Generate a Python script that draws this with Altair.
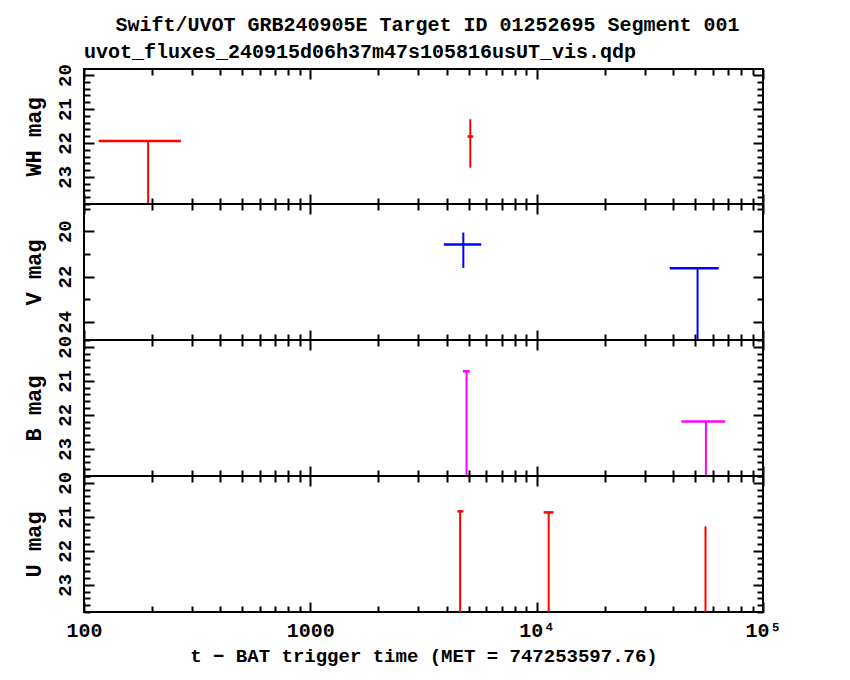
import altair as alt
import pandas as pd

FONT = "Liberation Mono"

# ---------------- data ----------------
title_line1 = "Swift/UVOT GRB240905E Target ID 01252695 Segment 001"
title_line2 = "uvot_fluxes_240915d06h37m47s105816usUT_vis.qdp"
x_title = "t − BAT trigger time (MET = 747253597.76)"

x_domain = [100, 100000]
x_major = [100, 1000, 10000, 100000]
x_major_labels = ["100", "1000", "10⁴", "10⁵"]
x_minor = [200, 300, 400, 500, 600, 700, 800, 900,
           2000, 3000, 4000, 5000, 6000, 7000, 8000, 9000,
           20000, 30000, 40000, 50000, 60000, 70000, 80000, 90000]

# WH filter (None in err_hi = upper limit, line runs to the panel edge)
wh_t = [192, 5090]
wh_t_lo = [116, 4950]
wh_t_hi = [268, 5240]
wh_mag = [21.94, 21.81]
wh_err_lo = [21.94, 21.30]
wh_err_hi = [None, 22.73]

# V filter
v_t = [4742, 51400]
v_t_lo = [3890, 38700]
v_t_hi = [5690, 63700]
v_mag = [20.59, 21.63]
v_err_lo = [20.06, 21.63]
v_err_hi = [21.62, None]

# B filter
b_t = [4900, 55950]
b_t_lo = [4720, 43600]
b_t_hi = [5060, 68100]
b_mag = [20.72, 22.20]
b_err_lo = [20.72, 22.20]
b_err_hi = [None, None]

# U filter
u_t = [4590, 11300, 55700]
u_t_lo = [4470, 10740, 55300]
u_t_hi = [4745, 11880, 56100]
u_mag = [20.84, 20.87, 21.31]
u_err_lo = [20.84, 20.87, 21.31]
u_err_hi = [None, None, None]

wh_domain = [19.82, 23.8]
v_domain = [18.8, 24.8]
b_domain = [19.8, 23.8]
u_domain = [19.8, 23.8]

wh_major = [20, 21, 22, 23]
v_major = [20, 22, 24]
v_minor = [19, 21, 23]
b_major = [20, 21, 22, 23]
u_major = [20, 21, 22, 23]


def fine_minor(lo, hi):
    vals = []
    k = int(round(lo * 5))
    while k <= int(round(hi * 5)):
        if k % 5 != 0:
            vals.append(round(k / 5, 1))
        k += 1
    return vals


def table(t, tlo, thi, mag, elo, ehi, domain):
    return pd.DataFrame({
        "t": t, "t_lo": tlo, "t_hi": thi, "mag": mag,
        "mag_lo": elo,
        "mag_hi": [domain[1] if v is None else v for v in ehi],
    })


label_expr = " : ".join(
    f"abs(datum.value - {v}) < 1 ? '{lab}'" for v, lab in zip(x_major, x_major_labels)
) + " : ''"

PLOT_W = 679


def x_axis(orient, values, size, labels=False, title=None):
    kw = dict(orient=orient, values=values, tickSize=size, offset=-size,
              domain=False, grid=False, tickColor="black", tickWidth=2,
              labels=labels, title=title)
    if labels:
        kw.update(labelExpr=label_expr, labelFont=FONT, labelFontSize=20,
                  labelFontWeight="bold", labelColor="black", labelPadding=8,
                  labelFlush=False, labelOverlap=False)
    if title:
        kw.update(titleFont=FONT, titleFontSize=19, titleFontWeight="bold",
                  titleColor="black", titlePadding=6)
    return alt.Axis(**kw)


def y_axis(orient, values, size, labels=False, title=None):
    kw = dict(orient=orient, values=values, tickSize=size, offset=-size,
              domain=False, grid=False, tickColor="black", tickWidth=2,
              labels=labels, title=title)
    if labels:
        kw.update(labelFont=FONT, labelFontSize=19, labelFontWeight="bold",
                  labelColor="black", labelAngle=270, labelAlign="center",
                  labelBaseline="bottom", labelPadding=10, labelOverlap=False,
                  labelFlush=False, format="d")
    if title:
        kw.update(titleFont=FONT, titleFontSize=22, titleFontWeight="bold",
                  titleColor="black", titlePadding=10)
    return alt.Axis(**kw)


def panel(df, color, domain, y_major, y_minor, y_title, height,
          bottom=False, ptitle=None):
    xs = alt.Scale(type="log", domain=x_domain, nice=False)
    ys = alt.Scale(domain=domain, reverse=True, nice=False, zero=False)
    base = alt.Chart(df)
    combos = [
        (x_axis("bottom", x_major, 10, labels=bottom, title=x_title if bottom else None),
         y_axis("left", y_major, 10, labels=True, title=y_title)),
        (x_axis("bottom", x_minor, 6), y_axis("left", y_minor, 6)),
        (x_axis("top", x_major, 10), y_axis("right", y_major, 10)),
        (x_axis("top", x_minor, 6), y_axis("right", y_minor, 6)),
    ]
    layers = []
    for ax, ay in combos:
        layers.append(base.mark_point(opacity=0).encode(
            x=alt.X("t:Q", scale=xs, axis=ax),
            y=alt.Y("mag:Q", scale=ys, axis=ay)))
    vert = base.mark_rule(color=color, strokeWidth=2, clip=True).encode(
        x=alt.X("t:Q", scale=xs, axis=None),
        y=alt.Y("mag_lo:Q", scale=ys, axis=None),
        y2="mag_hi:Q")
    horiz = base.mark_rule(color=color, strokeWidth=2.5, clip=True).encode(
        x=alt.X("t_lo:Q", scale=xs, axis=None),
        x2="t_hi:Q",
        y=alt.Y("mag:Q", scale=ys, axis=None))
    props = dict(width=PLOT_W, height=height)
    if ptitle:
        props["title"] = alt.TitleParams(ptitle, anchor="start", frame="group",
                                         font=FONT, fontSize=20, fontWeight="bold",
                                         color="black", offset=2)
    return alt.layer(*layers, vert, horiz).resolve_axis(
        x="independent", y="independent").properties(**props)


p1 = panel(table(wh_t, wh_t_lo, wh_t_hi, wh_mag, wh_err_lo, wh_err_hi, wh_domain),
           "#ff0000", wh_domain, wh_major, fine_minor(*wh_domain), "WH mag", 135,
           ptitle=title_line2)
p2 = panel(table(v_t, v_t_lo, v_t_hi, v_mag, v_err_lo, v_err_hi, v_domain),
           "#0000ff", v_domain, v_major, v_minor, "V mag", 136)
p3 = panel(table(b_t, b_t_lo, b_t_hi, b_mag, b_err_lo, b_err_hi, b_domain),
           "#ff00ff", b_domain, b_major, fine_minor(*b_domain), "B mag", 136)
p4 = panel(table(u_t, u_t_lo, u_t_hi, u_mag, u_err_lo, u_err_hi, u_domain),
           "#ff0000", u_domain, u_major, fine_minor(*u_domain), "U mag", 136,
           bottom=True)

chart = alt.vconcat(p1, p2, p3, p4, spacing=0, bounds="flush").properties(
    title=alt.TitleParams(title_line1, anchor="middle", font=FONT, fontSize=20,
                          fontWeight="bold", color="black", offset=6, dx=26),
    padding={"left": 12, "top": 6, "right": 5, "bottom": 5},
    background="white",
).configure_view(stroke="black", strokeWidth=2)

chart.save("out.html", embed_options={"renderer": "svg", "actions": False})
